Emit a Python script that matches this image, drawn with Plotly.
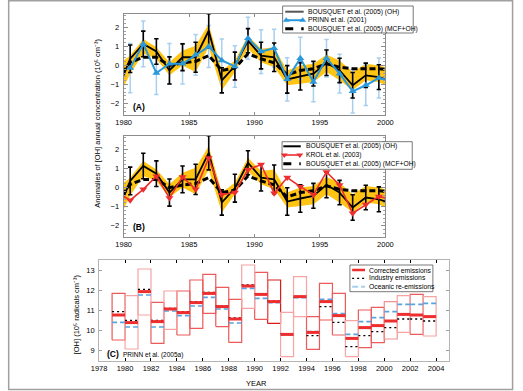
import plotly.graph_objects as go

# ---------------- DATA ----------------
# Panels A and B: annual OH anomalies (1e5 cm-3), values at mid-year
years_ab = [1979.5, 1980.5, 1981.5, 1982.5, 1983.5, 1984.5, 1985.5, 1986.5, 1987.5, 1988.5, 1989.5,
            1990.5, 1991.5, 1992.5, 1993.5, 1994.5, 1995.5, 1996.5, 1997.5, 1998.5, 1999.5, 2000.5]
bousquet_oh = [-1.35, 0.35, 1.13, 0.73, -0.26, 0.43, 0.43, 1.82, -0.78, -0.03, 1.30,
               0.52, 0.43, -0.73, -0.57, -0.43, 0.14, -0.26, -1.04, -0.52, -0.61, -0.85]
bousquet_mcf_oh = [-0.77, 0.17, 0.43, 0.43, 0.00, 0.14, 0.21, 0.52, -0.26, -0.14, 0.61,
                   0.35, 0.14, -0.49, -0.26, -0.17, 0.09, -0.09, -0.17, -0.17, -0.17, -0.23]
band_upper = [0.00, 0.52, 1.39, 0.95, 0.17, 0.78, 1.04, 2.17, -0.26, 0.26, 1.56,
              0.87, 0.95, -0.26, 0.00, 0.09, 0.56, 0.26, -0.35, 0.09, 0.00, -0.18]
band_lower = [-1.83, -0.43, 0.61, 0.35, -0.52, 0.00, -0.35, 0.95, -1.30, -0.35, 0.87,
              0.17, -0.09, -1.04, -0.96, -0.87, -0.35, -0.78, -1.30, -0.78, -0.87, -1.21]

years_err = [1980.5, 1981.5, 1982.5, 1983.5, 1984.5, 1985.5, 1986.5, 1987.5, 1988.5, 1989.5,
             1990.5, 1991.5, 1992.5, 1993.5, 1994.5, 1995.5, 1996.5, 1997.5, 1998.5, 1999.5]
bousquet_err = [0.72, 0.67, 0.67, 0.71, 0.70, 0.79, 0.89, 0.66, 0.73, 0.63,
                0.70, 0.75, 0.72, 0.72, 0.65, 0.67, 0.64, 0.67, 0.64, 0.65]

years_prinn = [1980.5, 1981.5, 1982.5, 1983.5, 1984.5, 1985.5, 1986.5, 1987.5, 1988.5, 1989.5,
               1990.5, 1991.5, 1992.5, 1993.5, 1994.5, 1995.5, 1996.5, 1997.5, 1998.5, 1999.5, 2000.5]
prinn = [-0.14, 1.13, -0.40, 0.09, 0.09, 0.56, 0.99, 0.26, -0.05, 1.43,
         0.73, 0.90, -0.73, 0.38, -0.87, 0.38, -0.43, -1.36, -1.04, -0.66, -0.80]
prinn_err = [1.29, 1.20, 1.13, 1.06, 1.06, 1.07, 1.10, 1.13, 1.09, 1.10,
             1.15, 1.00, 1.13, 1.10, 1.04, 0.98, 1.02, 1.14, 1.06, 1.05]

krol = [-0.26, -0.66, -0.09, 0.60, -0.54, 0.56, -0.09, 1.55, -0.37, -0.26, 0.94,
        1.21, -0.29, 0.53, 0.05, -0.37, 0.82, 0.14, -1.34, -0.88, -0.46, -0.62]

# Panel C: [OH] (1e5 radicals cm-3), PRINN et al. (2005a)
years_c = list(range(1979, 2004))
c_upper = [11.83, 11.72, 13.05, 11.38, 11.95, 11.95, 12.50, 12.78, 12.13, 11.53, 13.25, 12.88, 12.50,
           10.88, 12.67, 10.67, 12.33, 11.83, 10.47, 11.00, 11.13, 11.42, 11.72, 11.78, 11.67]
c_lower = [9.50, 9.05, 10.75, 9.33, 10.03, 9.75, 10.08, 10.83, 10.17, 9.38, 11.08, 10.53, 10.33,
           8.67, 10.67, 9.03, 10.50, 9.75, 8.67, 9.12, 9.37, 9.55, 9.88, 9.78, 9.70]
corrected = [10.75, 10.37, 11.92, 10.42, 11.05, 10.87, 11.37, 11.83, 11.17, 10.55, 12.20, 11.78, 11.42,
             9.78, 11.67, 9.88, 11.42, 10.72, 9.58, 10.12, 10.22, 10.45, 10.78, 10.75, 10.67]
industry = [10.92, 10.48, 12.03, 10.48, 11.08, 10.92, 11.42, 11.88, 11.20, 10.60, 12.25, 11.82, 11.45,
            9.82, 11.63, 9.72, 11.17, 10.38, 9.17, 9.72, 9.92, 10.12, 10.55, 10.55, 10.45]
oceanic = [10.38, 10.15, 11.75, 10.15, 10.95, 10.72, 11.20, 11.63, 11.05, 10.35, 12.08, 11.58, 11.37,
           9.75, 11.62, 9.92, 11.53, 10.82, 9.78, 10.42, 10.62, 10.92, 11.28, 11.28, 11.33]

ab_xticks = [1980, 1985, 1990, 1995, 2000]
ab_yticks = [-2, -1, 0, 1, 2]
c_xticks = list(range(1978, 2005, 2))
c_yticks = [9, 10, 11, 12, 13]

# ---------------- STYLE / LAYOUT ----------------
W, H = 523, 391
FONT = "Liberation Sans, Arial, sans-serif"
def px(x): return x / W
def py(y): return 1 - y / H

GOLD = "#FFC414"
BLUE = "#2a98dc"
LBLUE = "#a9cfee"
RED = "#ee2e2e"
FRAME = "#8c8c8c"

fig = go.Figure()

def add_common(xa, ya):
    fig.add_trace(go.Scatter(x=years_ab, y=band_lower, mode="lines", line=dict(width=0),
                             hoverinfo="skip", showlegend=False, xaxis=xa, yaxis=ya))
    fig.add_trace(go.Scatter(x=years_ab, y=band_upper, mode="lines", line=dict(width=0),
                             fill="tonexty", fillcolor=GOLD, hoverinfo="skip",
                             showlegend=False, xaxis=xa, yaxis=ya))

def add_bousquet(xa, ya):
    fig.add_trace(go.Scatter(x=years_ab, y=bousquet_mcf_oh, mode="lines",
                             line=dict(color="black", width=3, dash="6px,3px"),
                             showlegend=False, xaxis=xa, yaxis=ya))
    fig.add_trace(go.Scatter(x=years_ab, y=bousquet_oh, mode="lines",
                             line=dict(color="black", width=1.8),
                             showlegend=False, xaxis=xa, yaxis=ya))
    fig.add_trace(go.Scatter(x=years_err, y=bousquet_oh[1:-1], mode="markers",
                             marker=dict(size=1, color="rgba(0,0,0,0)"),
                             error_y=dict(type="data", array=bousquet_err, color="black",
                                          thickness=1.6, width=2.2),
                             showlegend=False, xaxis=xa, yaxis=ya))

# Panel A
add_common("x", "y")
fig.add_trace(go.Scatter(x=years_prinn[:-1], y=prinn[:-1], mode="markers",
                         marker=dict(size=1, color="rgba(0,0,0,0)"),
                         error_y=dict(type="data", array=prinn_err, color=LBLUE,
                                      thickness=1.5, width=2.2),
                         showlegend=False, xaxis="x", yaxis="y"))
add_bousquet("x", "y")
fig.add_trace(go.Scatter(x=years_prinn, y=prinn, mode="lines+markers",
                         line=dict(color=BLUE, width=2),
                         marker=dict(symbol="triangle-up", size=7, color=BLUE),
                         showlegend=False, xaxis="x", yaxis="y"))

# Panel B
add_common("x2", "y2")
add_bousquet("x2", "y2")
fig.add_trace(go.Scatter(x=years_ab, y=krol, mode="lines+markers",
                         line=dict(color=RED, width=1.6),
                         marker=dict(symbol="triangle-down", size=7, color=RED),
                         showlegend=False, xaxis="x2", yaxis="y2"))

# Panel C boxes
box_colors = ["#ec5a5a", "#f6a4a4", "#f6a4a4", "#ec5a5a", "#f6a4a4", "#ec5a5a", "#ec5a5a",
              "#ec5a5a", "#ec5a5a", "#ec5a5a", "#f6a4a4", "#ec5a5a", "#d81c1c", "#f6a4a4",
              "#f6a4a4", "#ec5a5a", "#ec5a5a", "#ec5a5a", "#f6a4a4", "#ec5a5a", "#ec5a5a",
              "#f29090", "#f6a4a4", "#ec5a5a", "#f6a4a4"]
for col in sorted(set(box_colors)):
    bx, by = [], []
    for yr, lo, hi, c in zip(years_c, c_lower, c_upper, box_colors):
        if c != col:
            continue
        bx += [yr, yr + 1, yr + 1, yr, yr, None]
        by += [lo, lo, hi, hi, lo, None]
    fig.add_trace(go.Scatter(x=bx, y=by, mode="lines", line=dict(color=col, width=1.2),
                             showlegend=False, xaxis="x3", yaxis="y3"))

def seg(vals):
    sx, sy = [], []
    for yr, v in zip(years_c, vals):
        sx += [yr, yr + 1, None]
        sy += [v, v, None]
    return sx, sy

sx, sy = seg(oceanic)
fig.add_trace(go.Scatter(x=sx, y=sy, mode="lines", line=dict(color="#5aa4de", width=1.6, dash="5px,3px"),
                         showlegend=False, xaxis="x3", yaxis="y3"))
sx, sy = seg(industry)
fig.add_trace(go.Scatter(x=sx, y=sy, mode="lines", line=dict(color="black", width=1.3, dash="2px,3px"),
                         showlegend=False, xaxis="x3", yaxis="y3"))
sx, sy = seg(corrected)
fig.add_trace(go.Scatter(x=sx, y=sy, mode="lines", line=dict(color=RED, width=3),
                         showlegend=False, xaxis="x3", yaxis="y3"))

# ---------------- custom legends (overlay axis in page fractions) ----------------
def leg_box(x0, y0, x1, y1):
    fig.add_trace(go.Scatter(x=[px(x0), px(x1), px(x1), px(x0), px(x0)],
                             y=[py(y0), py(y0), py(y1), py(y1), py(y0)],
                             mode="lines", fill="toself", fillcolor="white",
                             line=dict(color="#555555", width=0.8), hoverinfo="skip",
                             showlegend=False, xaxis="x4", yaxis="y4"))

def leg_line(x0, x1, y, line, marker=None):
    fig.add_trace(go.Scatter(x=[px(x0), px(x1)], y=[py(y), py(y)],
                             mode="lines+markers" if marker else "lines",
                             line=line, marker=marker, hoverinfo="skip",
                             showlegend=False, xaxis="x4", yaxis="y4"))

annotations = []
def leg_text(x, y, text, size=6.7):
    annotations.append(dict(x=px(x), y=py(y), xref="paper", yref="paper", text=text,
                            showarrow=False, xanchor="left", yanchor="middle",
                            font=dict(family=FONT, size=size, color="black")))

# Legend A
leg_box(283.3, 6, 418, 33)
leg_line(286, 305, 11.7, dict(color="#555555", width=2))
leg_line(287, 304, 20.2, dict(color=BLUE, width=2), dict(symbol="triangle-up", size=6, color=BLUE))
leg_line(286, 305, 28.8, dict(color="black", width=3, dash="8px,8px"))
leg_text(307, 11.7, "BOUSQUET et al. (2005) (OH)")
leg_text(307, 20.2, "PRINN et al. (2001)")
leg_text(307, 28.8, "BOUSQUET et al. (2005) (MCF+OH)")

# Legend B
leg_box(282.7, 141.7, 417, 169.3)
leg_line(284, 302, 146.3, dict(color="black", width=2))
leg_line(285, 301, 155, dict(color=RED, width=1.6), dict(symbol="triangle-down", size=6, color=RED))
leg_line(284, 302, 163.7, dict(color="black", width=3, dash="8px,8px"))
leg_text(305, 146.3, "BOUSQUET et al. (2005) (OH)")
leg_text(305, 155, "KROL et al. (2003)")
leg_text(305, 163.7, "BOUSQUET et al. (2005) (MCF+OH)")

# Legend C
leg_box(352.7, 265, 438.3, 291.7)
leg_line(355, 368.3, 270, dict(color=RED, width=2.5))
leg_line(355, 368.3, 278.3, dict(color="black", width=1.3, dash="2px,3px"))
leg_line(355, 368.3, 286.7, dict(color=LBLUE, width=2, dash="6px,3px"))
leg_text(370, 270, "Corrected emissions", 6.8)
leg_text(370, 278.3, "Industry emissions", 6.8)
leg_text(370, 286.7, "Oceanic re-emissions", 6.8)

# Panel labels and titles
def txt(x, y, text, size, **kw):
    d = dict(x=px(x), y=py(y), xref="paper", yref="paper", text=text, showarrow=False,
             xanchor="left", yanchor="middle", font=dict(family=FONT, size=size, color="black"))
    d.update(kw)
    annotations.append(d)

txt(127, 107, "<b>(A)</b>", 8.5)
txt(127, 227, "<b>(B)</b>", 8.5)
txt(100, 354, "<b>(C)</b>", 8.5)
txt(117, 354.5, "PRINN et al. (2005a)", 6.5)
txt(92, 123.5, "Anomalies of [OH] annual concentration (10⁵ cm⁻³)", 7.5,
    xanchor="center", textangle=-90)
txt(70.5, 314, "[OH] (10⁵ radicals cm⁻³)", 7.5, xanchor="center", textangle=-90)
txt(256, 383, "YEAR", 7.5, xanchor="center")

tickfont = dict(family=FONT, size=7.5, color="black")

def ab_axes(domy):
    xa = dict(domain=[px(119.3), px(389.3)], range=[1980, 2000], tickvals=ab_xticks,
              ticks="inside", ticklen=3, tickcolor=FRAME, showline=True, linecolor=FRAME,
              linewidth=1, mirror="allticks", showgrid=False, zeroline=False, tickfont=tickfont,
              fixedrange=True)
    ya = dict(domain=domy, range=[-2.6, 2.7], tickvals=ab_yticks, ticks="inside", ticklen=4,
              tickcolor=FRAME, showline=True, linecolor=FRAME, linewidth=1, mirror="allticks",
              showgrid=False, zeroline=False, tickfont=tickfont, ticklabelstandoff=2,
              minor=dict(ticks="inside", ticklen=2, dtick=0.2, tickcolor="#a0a0a0"),
              fixedrange=True)
    return xa, ya

xa1, ya1 = ab_axes([py(115), py(14)])
xa2, ya2 = ab_axes([py(237.3), py(136)])
xa1["anchor"] = "y"; ya1["anchor"] = "x"
xa2["anchor"] = "y2"; ya2["anchor"] = "x2"

xa3 = dict(domain=[px(94), px(455)], range=[1978, 2005], tickvals=c_xticks, anchor="y3",
           ticks="inside", ticklen=3, tickcolor="black", showline=True, linecolor="#b4b4b4",
           linewidth=1, mirror="allticks", showgrid=False, zeroline=False, tickfont=tickfont,
           fixedrange=True)
ya3 = dict(domain=[py(361), py(260)], range=[8.45, 13.5], tickvals=c_yticks, anchor="x3",
           ticks="inside", ticklen=3, tickcolor="#a0a0a0", showline=True, linecolor="#b4b4b4",
           linewidth=1, mirror="allticks", showgrid=False, zeroline=False, tickfont=tickfont,
           ticklabelstandoff=2, fixedrange=True)
xa4 = dict(domain=[0, 1], range=[0, 1], visible=False, anchor="y4", fixedrange=True)
ya4 = dict(domain=[0, 1], range=[0, 1], visible=False, anchor="x4", fixedrange=True)

fig.update_layout(
    width=W, height=H, margin=dict(l=0, r=0, t=0, b=0),
    paper_bgcolor="white", plot_bgcolor="rgba(0,0,0,0)",
    xaxis=xa1, yaxis=ya1, xaxis2=xa2, yaxis2=ya2, xaxis3=xa3, yaxis3=ya3,
    xaxis4=xa4, yaxis4=ya4,
    showlegend=False, annotations=annotations,
    shapes=[dict(type="rect", xref="paper", yref="paper", x0=px(0.7), x1=px(520.5),
                 y0=py(389.5), y1=py(0.7), line=dict(color="#a0a0a0", width=1.5), layer="above")],
)

fig.write_html("out.html", config={"displayModeBar": False},
               post_script="document.body.style.margin='0';")
